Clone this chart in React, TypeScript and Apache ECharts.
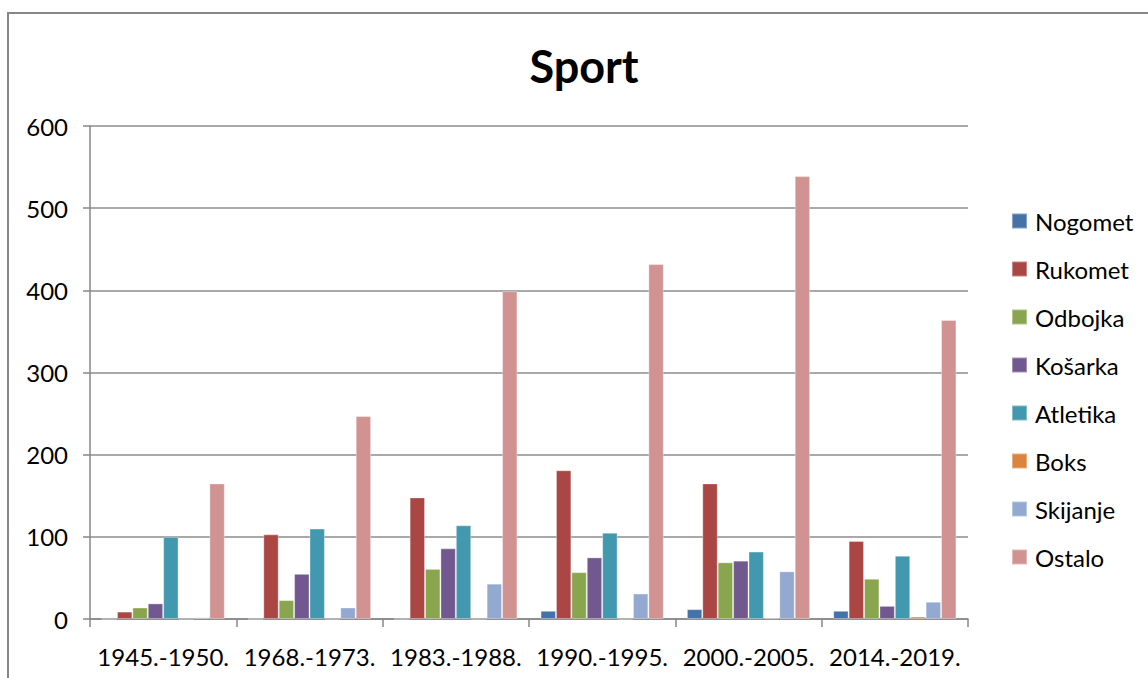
import React, { useEffect, useRef } from "react";
import * as echarts from "echarts";

const categories = ["1945.-1950.", "1968.-1973.", "1983.-1988.", "1990.-1995.", "2000.-2005.", "2014.-2019."];
const seriesNames = ["Nogomet", "Rukomet", "Odbojka", "Košarka", "Atletika", "Boks", "Skijanje", "Ostalo"];
const nogomet = [0, 0, 0, 10, 12, 10];
const rukomet = [9, 103, 148, 181, 165, 95];
const odbojka = [14, 23, 61, 57, 69, 49];
const kosarka = [19, 55, 86, 75, 71, 16];
const atletika = [100, 110, 114, 105, 82, 77];
const boks = [0, 0, 0, 0, 1, 3];
const skijanje = [2, 14, 43, 31, 58, 21];
const ostalo = [165, 247, 399, 432, 539, 364];
const colors = ["#4572A7", "#AA4643", "#89A54E", "#71588F", "#4198AF", "#DB843D", "#93A9CF", "#D19392"];
const yTicks = [0, 100, 200, 300, 400, 500, 600];

const FONT = "Lato, 'Open Sans', sans-serif";

export default function App() {
  const ref = useRef<HTMLDivElement>(null);
  useEffect(() => {
    document.body.style.margin = "0";
    const chart = echarts.init(ref.current!, null, { renderer: "svg" });
    const values = [nogomet, rukomet, odbojka, kosarka, atletika, boks, skijanje, ostalo];
    chart.setOption({
      animation: false,
      backgroundColor: "#ffffff",
      color: colors,
      textStyle: { fontFamily: FONT },
      title: {
        text: "Sport",
        left: 579,
        top: 38,
        textAlign: "center",
        textStyle: { fontSize: 45, fontWeight: "bold", color: "#000", fontFamily: FONT },
      },
      graphic: [
        {
          type: "rect",
          shape: { x: 8, y: 13, width: 1300, height: 800 },
          style: { fill: "none", stroke: "#878787", lineWidth: 2 },
          silent: true,
          z: -10,
        },
      ],
      legend: {
        orient: "vertical",
        left: 1006,
        top: 204,
        itemWidth: 15,
        itemHeight: 15,
        itemGap: 24,
        icon: "rect",
        textStyle: { fontSize: 24, color: "#000", fontFamily: FONT, lineHeight: 24, padding: [0, 0, 0, 3] },
        data: seriesNames,
      },
      grid: { left: 90, right: 180, top: 126, bottom: 59, containLabel: false },
      xAxis: {
        type: "category",
        data: categories,
        axisLine: { lineStyle: { color: "#878787", width: 1.5 } },
        axisTick: { show: true, length: 8, interval: 0, lineStyle: { color: "#878787", width: 1.5 } },
        axisLabel: { fontSize: 24, color: "#000", margin: 25, interval: 0, fontFamily: FONT },
      },
      yAxis: {
        type: "value",
        min: 0,
        max: 600,
        interval: 100,
        axisLine: { show: true, lineStyle: { color: "#878787", width: 1.5 } },
        axisTick: { show: true, length: 7, lineStyle: { color: "#878787", width: 1.5 } },
        splitLine: { lineStyle: { color: "#8c8c8c", width: 1.5 } },
        axisLabel: {
          fontSize: 24,
          color: "#000",
          margin: 22,
          fontFamily: FONT,
          formatter: (v: number) => (yTicks.includes(v) ? String(v) : ""),
        },
      },
      series: seriesNames.map((name, i) => ({
        name,
        type: "bar",
        data: values[i],
        barGap: "0%",
        barCategoryGap: "15.8%",
        itemStyle: { color: colors[i], borderColor: "rgba(255,255,255,0.35)", borderWidth: 1 },
      })),
    });
    return () => chart.dispose();
  }, []);
  return <div ref={ref} style={{ width: 1148, height: 678 }} />;
}
